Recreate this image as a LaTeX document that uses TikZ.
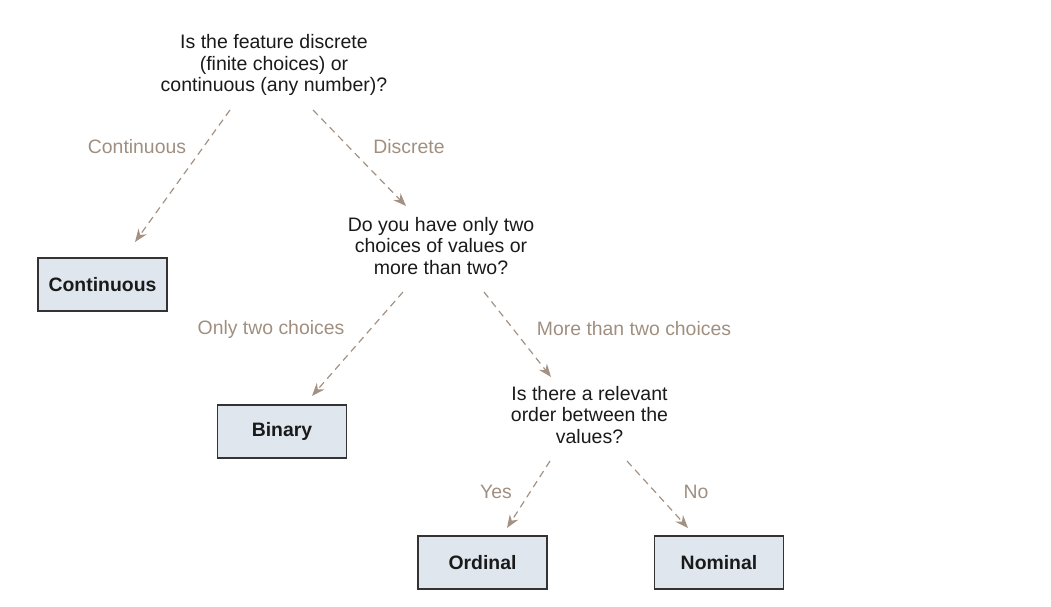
\documentclass[tikz,border=0pt]{standalone}
\usepackage{fontspec}
\setmainfont{Liberation Sans}
\usetikzlibrary{arrows.meta}
\definecolor{lblc}{HTML}{A08F80}
\definecolor{arrc}{HTML}{A39283}
\definecolor{boxfill}{HTML}{DFE6EE}
\definecolor{boxdraw}{HTML}{333333}
\definecolor{txtc}{HTML}{1A1A1A}
\tikzset{
  question/.style={align=center,font=\fontsize{19.5}{21.8}\selectfont,text=txtc,inner sep=0pt},
  answer/.style={draw=boxdraw,line width=1.2pt,fill=boxfill,minimum width=129pt,minimum height=53pt,font=\fontsize{19.4}{22}\selectfont\bfseries,text=txtc,inner sep=0pt},
  edgelbl/.style={font=\fontsize{19.4}{22}\selectfont,text=lblc,inner sep=0pt},
  conn/.style={draw=arrc,line width=1.2pt,dash pattern=on 7pt off 5pt,-{Stealth[length=13pt,width=10pt]}}
}
\begin{document}
\begin{tikzpicture}[x=1pt,y=-1pt]
\useasboundingbox (0,0) rectangle (1051,606);
\node[question] (q1) at (274,65) {Is the feature discrete\\(finite choices) or\\continuous (any number)?};
\node[question] (q2) at (441,246) {Do you have only two\\choices of values or\\more than two?};
\node[question] (q3) at (589.5,415) {Is there a relevant\\order between the\\values?};
\node[answer] (cont) at (102.5,284.5) {Continuous};
\node[answer] (bin) at (282,431.5) {Binary};
\node[answer] (ord) at (482.5,562.5) {Ordinal};
\node[answer] (nom) at (719,562.5) {Nominal};
\node[edgelbl] (l1) at (137,147) {Continuous};
\node[edgelbl] (l2) at (409,147) {Discrete};
\node[edgelbl] (l3) at (271,329) {Only two choices};
\node[edgelbl] (l4) at (634,329) {More than two choices};
\node[edgelbl] (l5) at (496,492) {Yes};
\node[edgelbl] (l6) at (696,492) {No};
\coordinate (s1) at (230,110);
\coordinate (e1) at (135,242);
\coordinate (s2) at (313,110);
\coordinate (e2) at (406,206);
\coordinate (s3) at (403,292);
\coordinate (e3) at (312,396);
\coordinate (s4) at (484,292);
\coordinate (e4) at (551,377);
\coordinate (s5) at (550,461);
\coordinate (e5) at (507,528);
\coordinate (s6) at (627,461);
\coordinate (e6) at (688,528);
\draw[conn] (s1) -- (e1);
\draw[conn] (s2) -- (e2);
\draw[conn] (s3) -- (e3);
\draw[conn] (s4) -- (e4);
\draw[conn] (s5) -- (e5);
\draw[conn] (s6) -- (e6);
\end{tikzpicture}
\end{document}
